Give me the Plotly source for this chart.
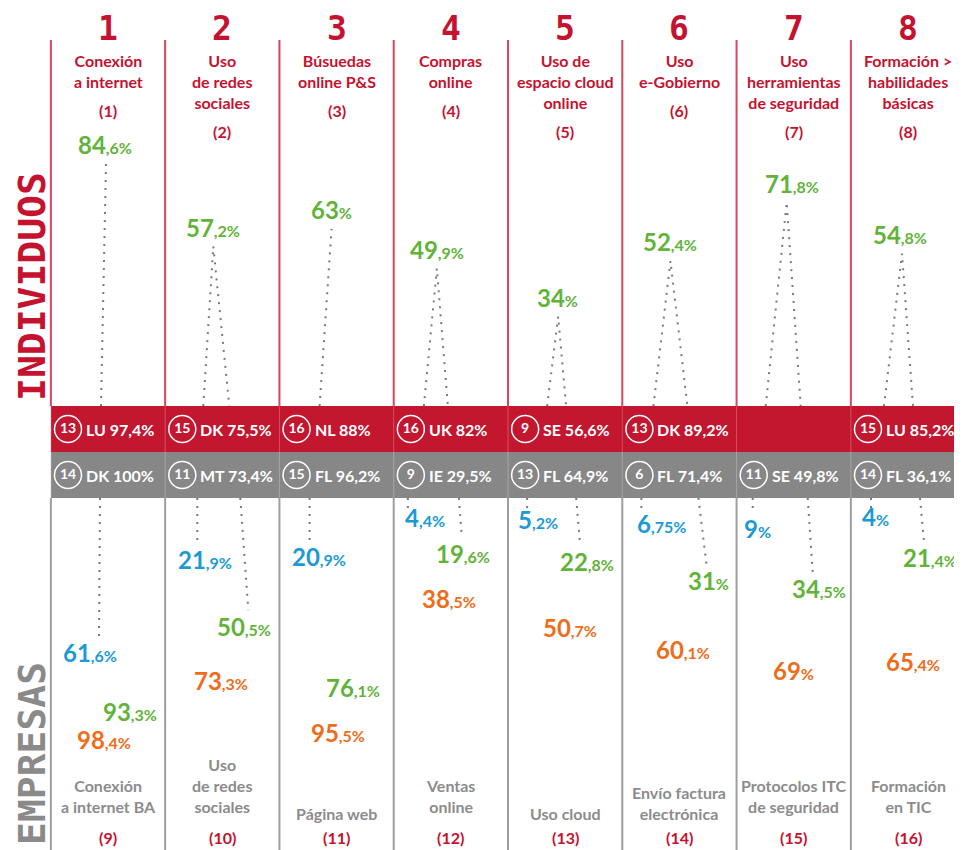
import plotly.graph_objects as go

# --- data -------------------------------------------------------------
cols = [1, 2, 3, 4, 5, 6, 7, 8]

ind_titles = ["Conexión<br>a internet", "Uso<br>de redes<br>sociales", "Búsuedas<br>online P&S",
              "Compras<br>online", "Uso de<br>espacio cloud<br>online", "Uso<br>e-Gobierno",
              "Uso<br>herramientas<br>de seguridad", "Formación ><br>habilidades<br>básicas"]
ind_refs = ["(1)", "(2)", "(3)", "(4)", "(5)", "(6)", "(7)", "(8)"]
ind_values = [84.6, 57.2, 63, 49.9, 34, 52.4, 71.8, 54.8]

ind_best_rank = [13, 15, 16, 16, 9, 13, None, 15]
ind_best_country = ["LU", "DK", "NL", "UK", "SE", "DK", None, "LU"]
ind_best_value = [97.4, 75.5, 88, 82, 56.6, 89.2, None, 85.2]

emp_best_rank = [14, 11, 15, 9, 13, 6, 11, 14]
emp_best_country = ["DK", "MT", "FL", "IE", "FL", "FL", "SE", "FL"]
emp_best_value = [100, 73.4, 96.2, 29.5, 64.9, 71.4, 49.8, 36.1]

emp_titles = ["Conexión<br>a internet BA", "Uso<br>de redes<br>sociales", "Página web",
              "Ventas<br>online", "Uso cloud", "Envío factura<br>electrónica",
              "Protocolos ITC<br>de seguridad", "Formación<br>en TIC"]
emp_refs = ["(9)", "(10)", "(11)", "(12)", "(13)", "(14)", "(15)", "(16)"]
emp_blue = [61.6, 21.9, 20.9, 4.4, 5.2, 6.75, 9, 4]
emp_green = [93.3, 50.5, 76.1, 19.6, 22.8, 31, 34.5, 21.4]
emp_orange = [98.4, 73.3, 95.5, 38.5, 50.7, 60.1, 69, 65.4]

# --- styling / layout helpers ----------------------------------------
OFF = 8                            # default page body margin
W, H = 962 - OFF, 850 - OFF
PX = 800 / 7                       # pixels per column
X_MIN = 1 - (108 - OFF) / PX
X_MAX = 8 + (962 - 908) / PX
Y1 = [4.5, 135.9]                  # individuals axis (upper)
Y2 = [145.1, -4.0]                 # companies axis (lower, reversed)
Y2_PX = (850 - 498) / (Y2[0] - Y2[1])

RED, BAND_RED, BAND_GRAY = "#c5122f", "#c3162f", "#878787"
GREEN, BLUE, ORANGE, GRAY_TXT = "#62b33a", "#1b9ad6", "#ee6c1a", "#8c8c8c"
DOTS = dict(color="#7a7a7a", width=2, dash="2px,6px")
FONT = "Lato"
PIX = "DejaVu Sans Mono"

# pixel offsets inside each column
ind_feet = [[-7], [-19, 7], [-17], [-27, -3], [-18, 1], [-26, 8], [-28, 7], [-24, 5]]
ind_apex = [-2, -9, -5, -14, -7, -9, -7, -6]
ind_lab = [-3, -9, -5, -14, -8, -9, -2, -8]
blue_line = [(-8, -9), (-25, -25), (-27, -27), (-43, -43), (-38, -38), (-38, -38), (-41, -41), (-37, -37)]
blue_lab = [-18, -17, -18, -26, -27, -18, -36, -33]
green_line = [None, (18, 26), None, (8, 11), (11, 15), (19, 27), (14, 19), (12, 16)]
green_lab = [22, 22, 16, 12, 22, 29, 25, 22]
orange_lab = [-4, -1, 1, -2, 5, 4, 0, 5]
emp_bottom = [818, 818, 825, 818, 825, 825, 818, 818]


def ox(c, px):
    return c + px / PX


def py(p):
    return 1 - (p - OFF) / H


def pxp(p):
    return (p - OFF) / W


def num(v):
    return f"{v:g}".replace(".", ",")


def big_label(v):
    parts = f"{v:g}".split(".")
    dec = "," + parts[1] if len(parts) > 1 else ""
    return f"{parts[0]}<span style='font-size:16px'>{dec}%</span>"


fig = go.Figure()
ann = []
shapes = []

# bands
shapes.append(dict(type="rect", xref="x", yref="y3", x0=0.5, x1=X_MAX, y0=1, y1=2,
                   fillcolor=BAND_RED, line_width=0, layer="below"))
shapes.append(dict(type="rect", xref="x", yref="y3", x0=0.5, x1=X_MAX, y0=0, y1=1,
                   fillcolor=BAND_GRAY, line_width=0, layer="below"))

# column separators
for c in cols:
    xb = c - 0.5
    shapes.append(dict(type="line", xref="x", yref="paper", x0=xb, x1=xb,
                       y0=py(406), y1=py(40), line=dict(color="#d6475e", width=2)))
    shapes.append(dict(type="line", xref="x", yref="paper", x0=xb, x1=xb,
                       y0=0, y1=py(498), line=dict(color="#9e9e9e", width=2)))
    shapes.append(dict(type="line", xref="x", yref="paper", x0=xb, x1=xb,
                       y0=py(498), y1=py(406), line=dict(color="rgba(255,255,255,0.25)", width=1)))

# upper dotted lines
lx, ly = [], []
for i, c in enumerate(cols):
    feet = ind_feet[i]
    apex = ox(c, ind_apex[i])
    if len(feet) == 1:
        lx += [ox(c, feet[0]), apex, None]
        ly += [Y1[0], ind_values[i], None]
    else:
        lx += [ox(c, feet[0]), apex, ox(c, feet[1]), None]
        ly += [Y1[0], ind_values[i], Y1[0], None]
fig.add_trace(go.Scatter(x=lx, y=ly, mode="lines", yaxis="y", hoverinfo="skip", line=DOTS))

# lower dotted lines
lx, ly = [], []
GAP = 7.0
for i, c in enumerate(cols):
    for vals, spec in ((emp_blue, blue_line[i]), (emp_green, green_line[i])):
        if spec is None:
            continue
        end = max(vals[i] - GAP, 0.5)
        lx += [ox(c, spec[0]), ox(c, spec[1]), None]
        ly += [Y2[1], end, None]
fig.add_trace(go.Scatter(x=lx, y=ly, mode="lines", yaxis="y2", hoverinfo="skip", line=DOTS))

# circles with ranks in the bands
cx, cy, ct = [], [], []
band_font = dict(family=FONT, size=16, color="white", weight="bold")
for i, c in enumerate(cols):
    if ind_best_rank[i] is not None:
        cx.append(ox(c, -40)); cy.append(1.5); ct.append(str(ind_best_rank[i]))
        ann.append(dict(x=ox(c, -24), y=1.5, xref="x", yref="y3", xanchor="left", yanchor="middle",
                        text=f"{ind_best_country[i]} {num(ind_best_value[i])}%", showarrow=False,
                        font=band_font))
    cx.append(ox(c, -40)); cy.append(0.5); ct.append(str(emp_best_rank[i]))
    ann.append(dict(x=ox(c, -24), y=0.5, xref="x", yref="y3", xanchor="left", yanchor="middle",
                    text=f"{emp_best_country[i]} {num(emp_best_value[i])}%", showarrow=False,
                    font=band_font))
fig.add_trace(go.Scatter(x=cx, y=cy, yaxis="y3", mode="markers+text", text=ct,
                         textposition="middle center", hoverinfo="skip",
                         textfont=dict(family=FONT, size=14, color="white", weight="bold"),
                         marker=dict(symbol="circle-open", size=27, color="white",
                                     line=dict(color="white", width=1.5))))

# value labels
for i, c in enumerate(cols):
    ann.append(dict(x=ox(c, ind_lab[i]), y=ind_values[i], xref="x", yref="y", yshift=19,
                    xanchor="center", yanchor="middle",
                    text=big_label(ind_values[i]), showarrow=False,
                    font=dict(family=FONT, size=24, color=GREEN, weight="bold")))
    # keep a green label clear of an orange one sitting just below it
    sep = (emp_orange[i] - emp_green[i]) * Y2_PX
    green_shift = max(0, 28 - sep) if 0 <= sep < 28 else 0
    for vals, offs, col, ys in ((emp_blue, blue_lab, BLUE, 0), (emp_green, green_lab, GREEN, green_shift),
                                (emp_orange, orange_lab, ORANGE, 0)):
        ann.append(dict(x=ox(c, offs[i]), y=vals[i], xref="x", yref="y2", yshift=ys,
                        xanchor="center", yanchor="middle",
                        text=big_label(vals[i]), showarrow=False,
                        font=dict(family=FONT, size=24, color=col, weight="bold")))

# headers and footers
for i, c in enumerate(cols):
    ann.append(dict(x=c, y=py(29), xref="x", yref="paper", xanchor="center", yanchor="middle",
                    text=str(c), showarrow=False,
                    font=dict(family=PIX, size=33, color=RED, weight="bold")))
    ann.append(dict(x=c, y=py(49), xref="x", yref="paper", xanchor="center", yanchor="top",
                    text=ind_titles[i], showarrow=False,
                    font=dict(family=FONT, size=16, color=RED, weight="bold")))
    nlines = ind_titles[i].count("<br>") + 1
    ann.append(dict(x=c, y=py(60 + 20.5 * nlines + 10), xref="x", yref="paper",
                    xanchor="center", yanchor="middle", text=ind_refs[i], showarrow=False,
                    font=dict(family=FONT, size=16, color=RED, weight="bold")))
    ann.append(dict(x=c, y=py(emp_bottom[i]), xref="x", yref="paper",
                    xanchor="center", yanchor="bottom", text=emp_titles[i], showarrow=False,
                    font=dict(family=FONT, size=16, color=GRAY_TXT, weight="bold")))
    ann.append(dict(x=c, y=py(837), xref="x", yref="paper", xanchor="center", yanchor="middle",
                    text=emp_refs[i], showarrow=False,
                    font=dict(family=FONT, size=16, color=RED, weight="bold")))

ann.append(dict(x=pxp(32), y=py(287), xref="paper", yref="paper", xanchor="center", yanchor="middle",
                text="INDIVIDUOS", textangle=-90, showarrow=False,
                font=dict(family=PIX, size=38, color=RED, weight="bold")))
ann.append(dict(x=pxp(32), y=py(754), xref="paper", yref="paper", xanchor="center", yanchor="middle",
                text="EMPRESAS", textangle=-90, showarrow=False,
                font=dict(family=PIX, size=38, color="#8a8a8a", weight="bold")))

hidden = dict(visible=False, showgrid=False, zeroline=False, fixedrange=True)
fig.update_layout(
    width=W, height=H, margin=dict(l=0, r=0, t=0, b=0),
    paper_bgcolor="white", plot_bgcolor="white", showlegend=False,
    xaxis=dict(range=[X_MIN, X_MAX], domain=[0, 1], **hidden),
    yaxis=dict(range=Y1, domain=[py(406), 1], anchor="x", **hidden),
    yaxis2=dict(range=Y2, domain=[0, py(498)], anchor="x", **hidden),
    yaxis3=dict(range=[0, 2], domain=[py(498), py(406)], anchor="x", **hidden),
    annotations=ann, shapes=shapes,
)

fig.write_html("out.html")
